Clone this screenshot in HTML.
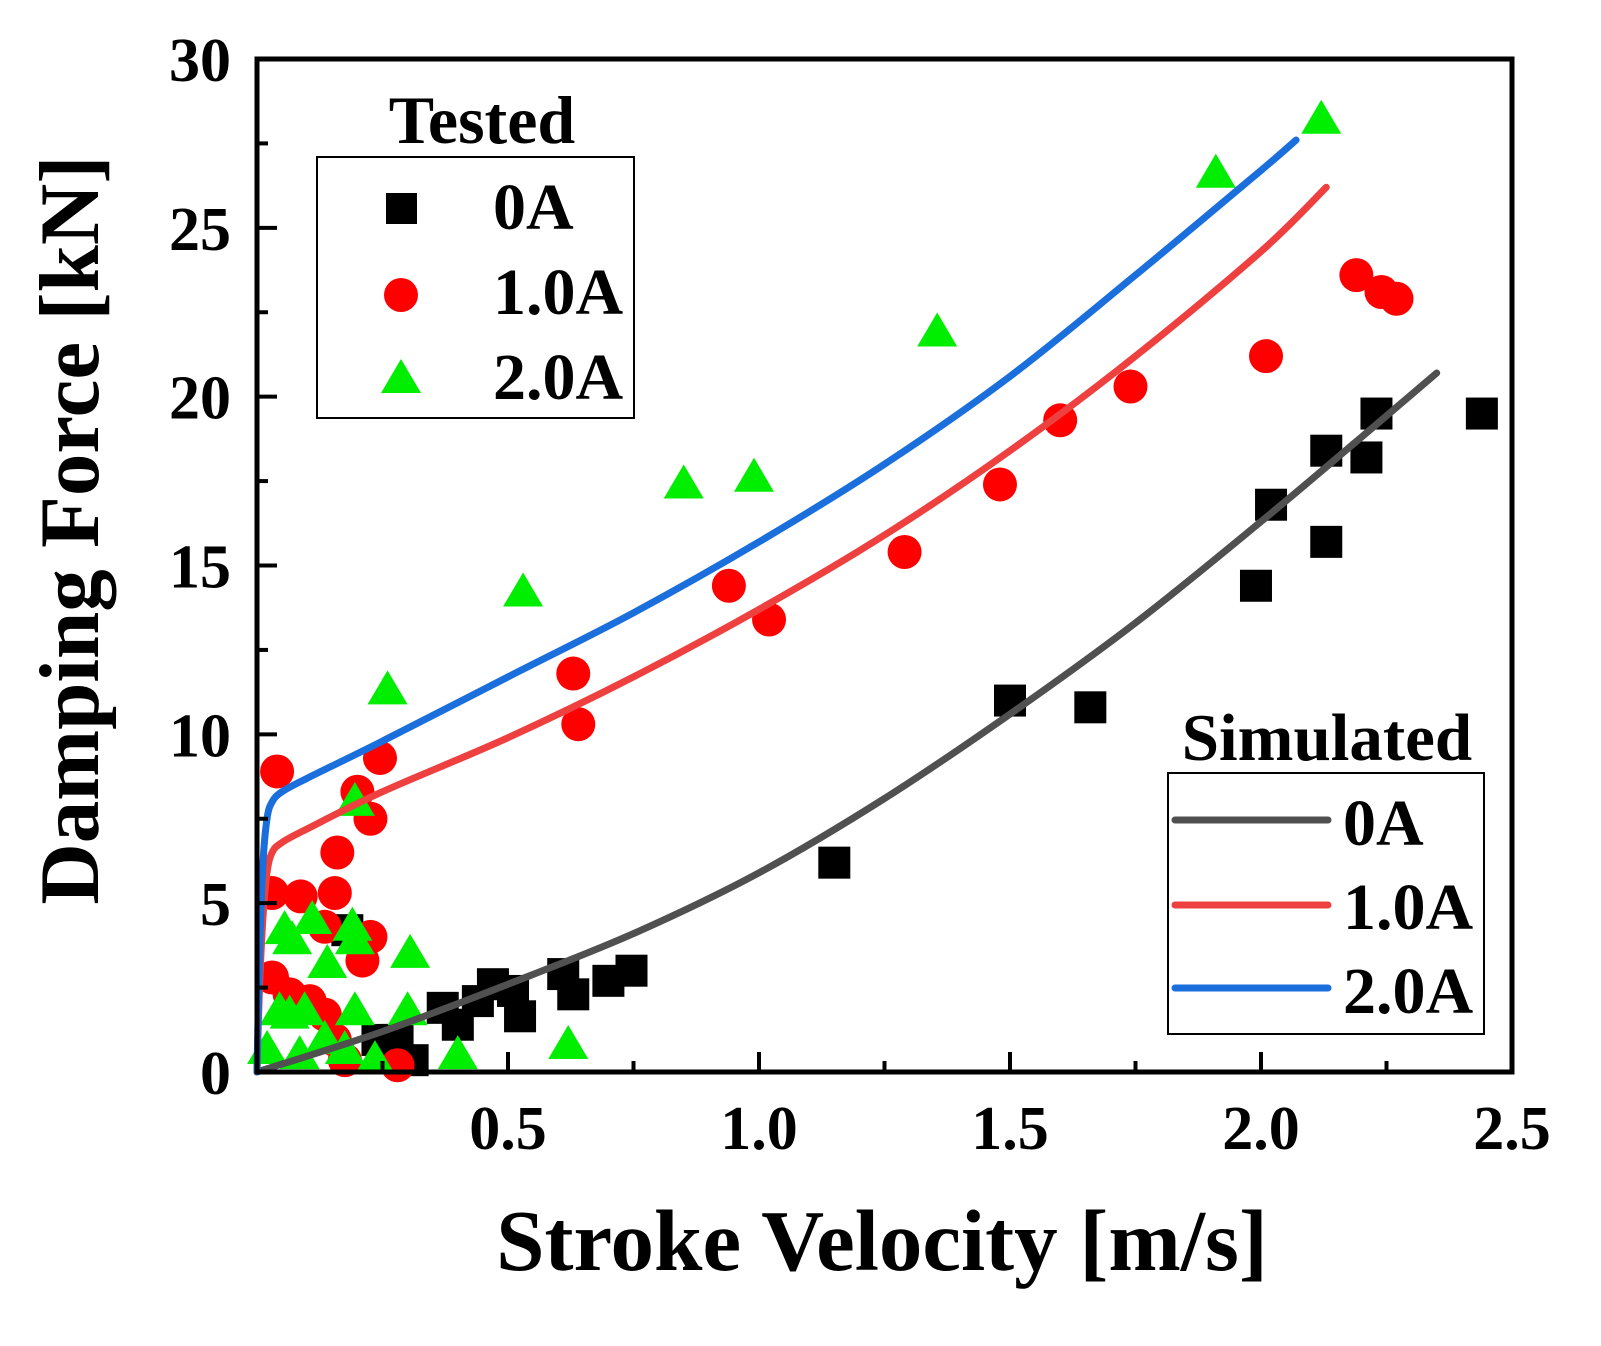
<!DOCTYPE html>
<html><head><meta charset="utf-8"><style>
body{margin:0;background:#fff}
svg{display:block}
text{font-family:"Liberation Serif",serif;font-weight:bold;fill:#000}
</style></head><body>
<svg id="chart" width="1601" height="1346" viewBox="0 0 1601 1346" xmlns="http://www.w3.org/2000/svg">
<g id="marks"></g>
<rect x="257" y="59" width="1255" height="1013" fill="none" stroke="#000" stroke-width="5"/>
<g id="ticks"></g>
<text x="882" y="1270" font-size="87" text-anchor="middle">Stroke Velocity [m/s]</text>
<text transform="translate(98,530) rotate(-90)" font-size="85" text-anchor="middle">Damping Force [kN]</text>
<g>
<text x="482" y="143" font-size="68" text-anchor="middle">Tested</text>
<rect x="317" y="157" width="317" height="261" fill="#fff" stroke="#000" stroke-width="2"/>
<rect x="386" y="193" width="31" height="31" fill="#000"/>
<text x="493" y="229" font-size="66">0A</text>
<circle cx="401" cy="295" r="17" fill="#ff0000"/>
<text x="493" y="314" font-size="66">1.0A</text>
<polygon points="401,359 381,393 421,393" fill="#00ee00"/>
<text x="493" y="399" font-size="66">2.0A</text>
</g>
<g>
<text x="1327" y="760" font-size="67" text-anchor="middle">Simulated</text>
<rect x="1168" y="773" width="316" height="261" fill="#fff" stroke="#000" stroke-width="2"/>
<line x1="1175" y1="820" x2="1328" y2="820" stroke="#505050" stroke-width="7" stroke-linecap="round"/>
<text x="1343" y="845" font-size="66">0A</text>
<line x1="1175" y1="905" x2="1328" y2="905" stroke="#ef4040" stroke-width="7" stroke-linecap="round"/>
<text x="1343" y="929" font-size="66">1.0A</text>
<line x1="1175" y1="988" x2="1328" y2="988" stroke="#1a6fdc" stroke-width="7" stroke-linecap="round"/>
<text x="1343" y="1013" font-size="66">2.0A</text>
</g>
</svg>
<script>
const xTicks=[0.5,1.0,1.5,2.0,2.5];
const yTicks=[0,5,10,15,20,25,30];
const sq0V=[2.44,2.23,2.21,2.13,2.13,2.02,1.99,1.66,1.50,1.15,0.746,0.70,0.63,0.61,0.524,0.51,0.47,0.44,0.40,0.37,0.31,0.28,0.24,0.18];
const sq0F=[19.5,19.5,18.2,18.4,15.7,16.8,14.4,10.8,11.0,6.2,3.0,2.7,2.3,2.9,1.65,2.4,2.6,2.1,1.4,1.9,0.35,0.95,0.95,4.2];
const c1V=[2.27,2.24,2.19,2.01,1.74,1.60,1.48,1.29,1.02,0.94,0.64,0.63,0.245,0.04,0.20,0.226,0.16,0.155,0.087,0.03,0.226,0.21,0.135,0.03,0.065,0.105,0.135,0.155,0.175,0.28];
const c1F=[22.9,23.1,23.6,21.2,20.3,19.3,17.4,15.4,13.4,14.4,10.3,11.8,9.3,8.9,8.3,7.5,6.5,5.3,5.2,5.3,4.0,3.3,4.3,2.8,2.3,2.1,1.7,0.95,0.35,0.2];
const t2V=[2.12,1.91,1.355,0.99,0.85,0.53,0.26,0.195,0.305,0.19,0.195,0.11,0.07,0.055,0.14,0.30,0.195,0.095,0.065,0.045,0.135,0.175,0.235,0.40,0.62,0.02,0.085];
const t2F=[28.2,26.6,21.9,17.6,17.4,14.2,11.3,8.0,3.5,4.3,3.9,4.5,3.9,4.2,3.2,1.8,1.8,1.8,1.7,1.8,0.95,0.65,0.35,0.5,0.8,0.65,0.5];
const sim0V=[0,0.25,0.5,0.75,1.0,1.25,1.5,1.75,2.0,2.2,2.35];
const sim0F=[0,1.2,2.6,4.1,5.9,8.1,10.6,13.3,16.3,18.8,20.7];
const sim1V=[0,0.005,0.012,0.02,0.03,0.05,0.1,0.25,0.5,0.75,1.0,1.25,1.5,1.75,2.0,2.13];
const sim1F=[0,2.5,4.6,5.9,6.5,6.8,7.2,8.3,9.9,11.7,13.7,15.9,18.4,21.2,24.3,26.2];
const sim2V=[0,0.005,0.012,0.02,0.03,0.05,0.1,0.25,0.5,0.75,1.0,1.25,1.5,1.75,2.0,2.07];
const sim2F=[0,3.5,6.2,7.5,8.0,8.3,8.7,9.8,11.7,13.6,15.7,18.0,20.6,23.6,26.7,27.6];
const X0=257,X1=1512,Y0=1072,Y1=59;
const sx=v=>X0+(v/2.5)*(X1-X0);
const sy=f=>Y0-(f/30)*(Y0-Y1);
const NS='http://www.w3.org/2000/svg';
const marks=document.getElementById('marks'),ticks=document.getElementById('ticks');
function mk(tag,attrs,parent){const e=document.createElementNS(NS,tag);for(const k in attrs)e.setAttribute(k,attrs[k]);parent.appendChild(e);return e;}
function smooth(P){let d='M'+P[0][0].toFixed(1)+','+P[0][1].toFixed(1);
for(let i=0;i<P.length-1;i++){const p0=P[Math.max(i-1,0)],p1=P[i],p2=P[i+1],p3=P[Math.min(i+2,P.length-1)];
const c1=[p1[0]+(p2[0]-p0[0])/6,p1[1]+(p2[1]-p0[1])/6],c2=[p2[0]-(p3[0]-p1[0])/6,p2[1]-(p3[1]-p1[1])/6];
d+=' C'+c1.map(n=>n.toFixed(1)).join(',')+' '+c2.map(n=>n.toFixed(1)).join(',')+' '+p2.map(n=>n.toFixed(1)).join(',');}
return d;}
sq0V.forEach((v,i)=>{const e=mk('rect',{x:sx(v)-16,y:sy(sq0F[i])-16,width:32,height:32,fill:'#000'},marks);

});
c1V.forEach((v,i)=>{const e=mk('circle',{cx:sx(v),cy:sy(c1F[i]),r:17,fill:'#ff0000'},marks);

});
t2V.forEach((v,i)=>{const x=sx(v),y=sy(t2F[i]);const e=mk('polygon',{points:`${x},${y-20} ${x-20},${y+14} ${x+20},${y+14}`,fill:'#00ee00'},marks);

});
[[sim0V,sim0F,'#505050','simulated-0a-line'],[sim1V,sim1F,'#ef4040','simulated-1a-line'],[sim2V,sim2F,'#1a6fdc','simulated-2a-line']].forEach(([V,F,c,n])=>{
const d=smooth(V.map((v,i)=>[sx(v),sy(F[i])]));
const e=mk('path',{d:d,fill:'none',stroke:c,'stroke-width':7,'stroke-linejoin':'round','stroke-linecap':'round'},marks);

});
for(let v=0.25;v<2.5;v+=0.25){const maj=Math.abs(v*2-Math.round(v*2))<1e-6;mk('line',{x1:sx(v),x2:sx(v),y1:Y0,y2:Y0-(maj?20:11),stroke:'#000','stroke-width':4},ticks);}
for(let f=2.5;f<30;f+=2.5){const maj=f%5===0;mk('line',{x1:X0,x2:X0+(maj?20:11),y1:sy(f),y2:sy(f),stroke:'#000','stroke-width':4},ticks);}
xTicks.forEach(v=>{const t=mk('text',{x:sx(v),y:1149,'font-size':62,'text-anchor':'middle'},ticks);t.textContent=v.toFixed(1);

});
yTicks.forEach(f=>{const t=mk('text',{x:231,y:sy(f)+22,'font-size':62,'text-anchor':'end'},ticks);t.textContent=f;

});
</script>
</body></html>
